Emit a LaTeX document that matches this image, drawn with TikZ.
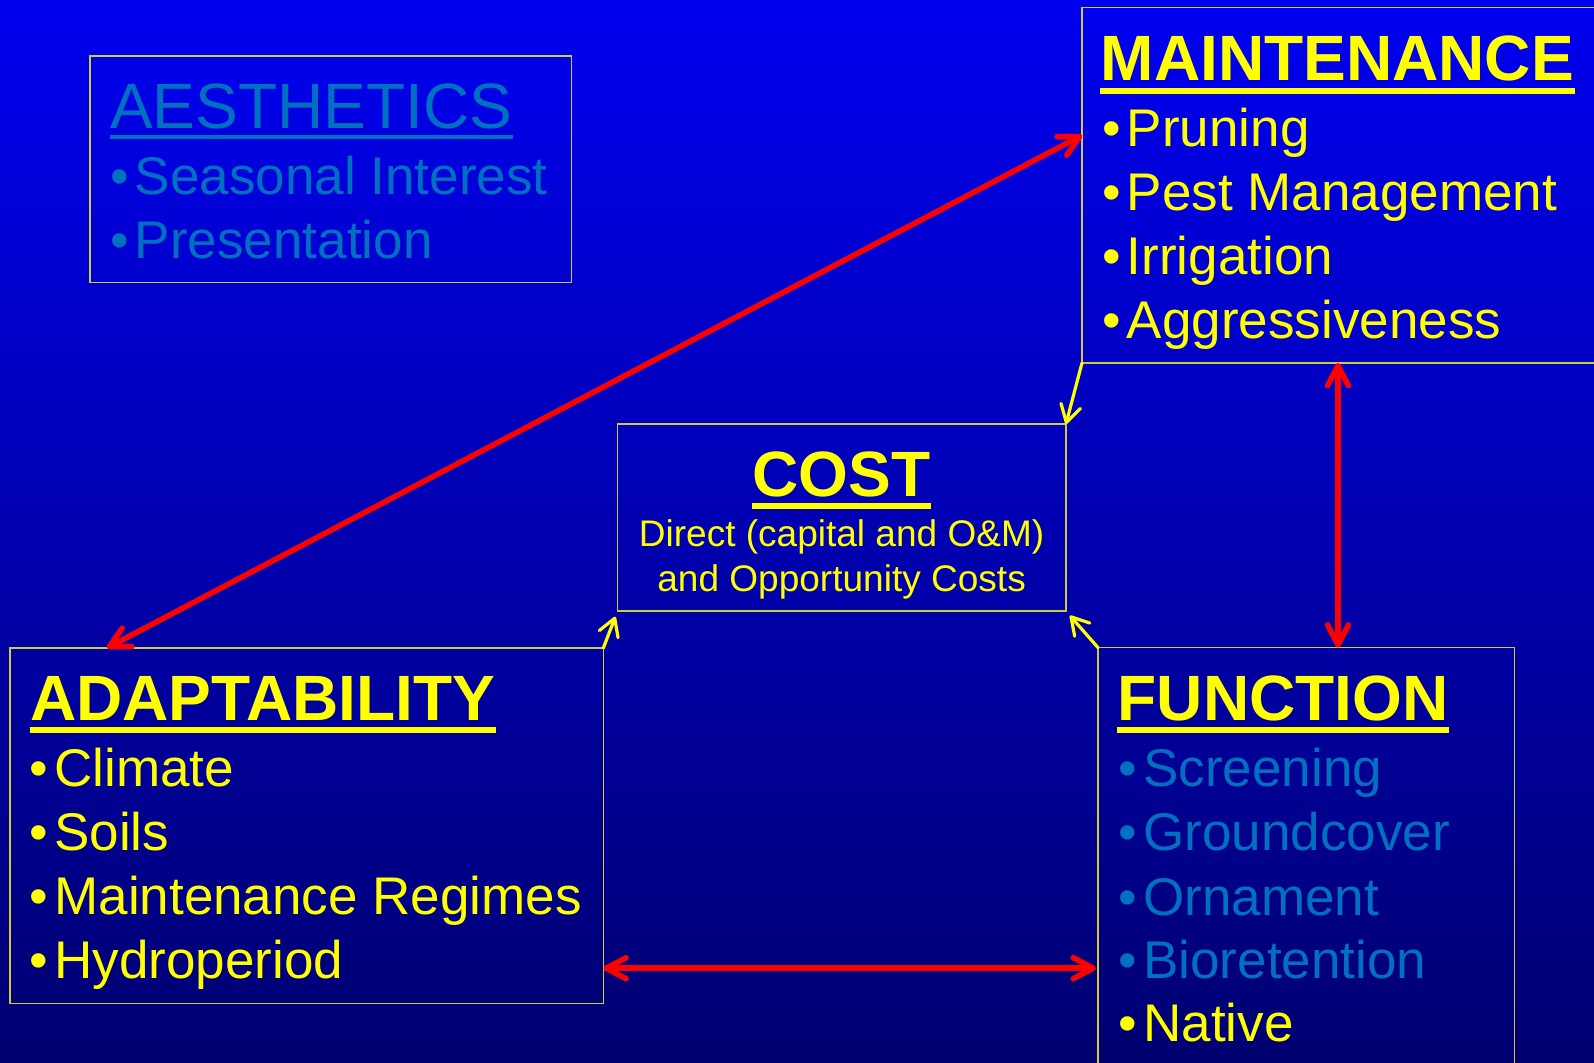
\documentclass[tikz,border=0pt]{standalone}
\usepackage{fontspec}
\setmainfont{Liberation Sans}
\usetikzlibrary{arrows.meta,calc}
\definecolor{bgtop}{RGB}{0,0,240}
\definecolor{bgbot}{RGB}{0,0,112}
\definecolor{boxline}{RGB}{204,204,64}
\definecolor{steel}{RGB}{0,112,192}
\definecolor{hiyel}{RGB}{255,255,0}
\newcommand{\bul}[1]{\textbullet\hspace{0.06cm}#1}
\tikzset{
    panel/.style={draw=boxline, line width=0.014cm, inner sep=0pt, outer sep=0pt, anchor=north west},
    headline/.style={font=\bfseries\fontsize{18.21}{21}\selectfont, text=hiyel, inner sep=0pt, anchor=base west},
    dimhead/.style={font=\fontsize{18.21}{21}\selectfont, text=steel, inner sep=0pt, anchor=base west},
    itemline/.style={font=\fontsize{15.08}{18}\selectfont, text=hiyel, inner sep=0pt, anchor=base west},
    dimline/.style={itemline, text=steel},
    costline/.style={font=\fontsize{10.53}{13}\selectfont, text=hiyel, inner sep=0pt, anchor=base},
    uline/.style={draw=hiyel, line width=0.06cm},
    redarr/.style={draw=red, line width=0.055cm, line cap=round,
        arrows={Straight Barb[length=0.2cm,width=0.21cm,round]-Straight Barb[length=0.2cm,width=0.21cm,round]}},
    yelarr/.style={draw=hiyel, line width=0.032cm, line cap=round,
        arrows={-Straight Barb[length=0.17cm,width=0.2cm,round]}}
}

\begin{document}
\begin{tikzpicture}[x=0.01cm, y=-0.01cm]
                \useasboundingbox (0,0) rectangle (1594,1062);
                \clip (0,0) rectangle (1594,1062);
                \shade [top color=bgtop, bottom color=bgbot] (0,0) rectangle (1594,1062);
                \node [panel, minimum width=4.814cm, minimum height=2.263cm] (aebox) at (90,56) {};
                \node [panel, minimum width=5.3cm, minimum height=3.554cm] (mnbox) at (1082,7.3) {};
                \node [panel, minimum width=4.482cm, minimum height=1.87cm] (cobox) at (617.5,424) {};
                \node [panel, minimum width=5.931cm, minimum height=3.553cm] (adbox) at (9.9,648) {};
                \node [panel, minimum width=4.16cm, minimum height=4.3cm] (fnbox) at (1098,647.6) {};
                \node [dimhead] (aehead) at (109.5,128.3) {AESTHETICS};
                \draw [uline, draw=steel, line width=0.043cm] ([yshift=-0.087cm]aehead.base west) -- ([yshift=-0.087cm]aehead.base east);
                \node [dimline] (aeseas) at (109.6,194) {\bul{Seasonal Interest}};
                \node [dimline] (aepres) at (109.6,258.3) {\bul{Presentation}};
                \node [headline] (mnhead) at (1100,80) {MAINTENANCE};
                \draw [uline] ([yshift=-0.107cm]mnhead.base west) -- ([yshift=-0.107cm]mnhead.base east);
                \node [itemline] (mnprun) at (1101.5,146.7) {\bul{Pruning}};
                \node [itemline] (mnpest) at (1101.5,210) {\bul{Pest Management}};
                \node [itemline] (mnirri) at (1101.5,274) {\bul{Irrigation}};
                \node [itemline] (mnaggr) at (1101.5,338.3) {\bul{Aggressiveness}};
                \node [headline, anchor=base] (cohead) at (841.6,496.7) {COST};
                \draw [uline] ([yshift=-0.096cm]cohead.base west) -- ([yshift=-0.096cm]cohead.base east);
                \node [costline] (codir) at (841.6,546) {Direct (capital and O\&M)};
                \node [costline] (coopp) at (841.6,591) {and Opportunity Costs};
                \node [headline] (adhead) at (29.5,720) {ADAPTABILITY};
                \draw [uline] ([yshift=-0.103cm]adhead.base west) -- ([yshift=-0.103cm]adhead.base east);
                \node [itemline] (adclim) at (29.1,786.7) {\bul{Climate}};
                \node [itemline] (adsoil) at (29.1,850) {\bul{Soils}};
                \node [itemline] (adregi) at (29.1,914) {\bul{Maintenance Regimes}};
                \node [itemline] (adhydr) at (29.1,978.3) {\bul{Hydroperiod}};
                \node [headline] (fnhead) at (1117,720.7) {FUNCTION};
                \draw [uline] ([yshift=-0.096cm]fnhead.base west) -- ([yshift=-0.096cm]fnhead.base east);
                \node [dimline] (fnscre) at (1118,786.7) {\bul{Screening}};
                \node [dimline] (fngrou) at (1118,850) {\bul{Groundcover}};
                \node [dimline] (fnorna) at (1118,915) {\bul{Ornament}};
                \node [dimline] (fnbior) at (1118,978.3) {\bul{Bioretention}};
                \node [itemline] (fnnati) at (1118,1041.7) {\bul{Native}};
                \coordinate (dgad) at ($(adbox.north west)+(97,0)$);
                \coordinate (dgmn) at ($(mnbox.north west)+(0,128)$);
                \coordinate (vtmn) at ($(mnbox.south west)+(256,0)$);
                \coordinate (hzad) at ($(adbox.south east)+(0,-35.3)$);
                \draw [redarr] (dgad) -- (dgmn);
                \draw [redarr] (vtmn) -- (vtmn |- fnbox.north);
                \draw [redarr, shorten >=0.02cm] (hzad) -- (hzad -| fnbox.west);
                \draw [yelarr] (mnbox.south west) -- (cobox.north east);
                \draw [yelarr, shorten >=0.06cm] (adbox.north east) -- (cobox.south west);
                \draw [yelarr, shorten >=0.06cm] (fnbox.north west) -- (cobox.south east);
\end{tikzpicture}
\end{document}
